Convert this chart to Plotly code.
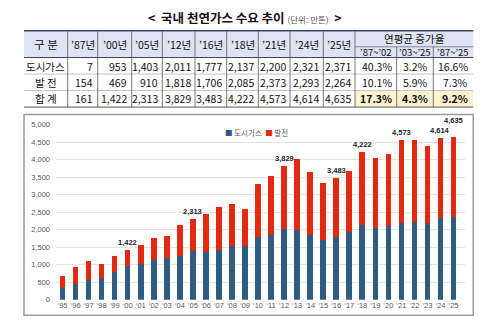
import plotly.graph_objects as go

# ---------------- data ----------------
years = ["‘95", "‘96", "‘97", "‘98", "‘99", "‘00", "‘01", "‘02", "‘03", "‘04", "‘05",
         "‘06", "‘07", "‘08", "‘09", "‘10", "‘11", "‘12", "‘13", "‘14", "‘15", "‘16",
         "‘17", "‘18", "‘19", "‘20", "‘21", "‘22", "‘23", "‘24", "‘25"]
city_gas = [330, 450, 560, 610, 780, 953, 1010, 1120, 1200, 1260, 1403,
            1370, 1430, 1520, 1540, 1780, 1840, 2011, 2000, 1840, 1700, 1777,
            1930, 2137, 2060, 2090, 2200, 2220, 2180, 2321, 2371]
power = [350, 470, 550, 420, 480, 469, 540, 640, 630, 860, 910,
         1070, 1220, 1210, 1050, 1510, 1700, 1818, 2010, 1810, 1630, 1706,
         1750, 2085, 1980, 2060, 2373, 2330, 2200, 2293, 2264]
label_years = ["‘00", "‘05", "‘12", "‘16", "‘18", "‘21", "‘24", "‘25"]

table_cols = ["’87년", "’00년", "’05년", "’12년", "’16년", "’18년", "’21년", "’24년", "’25년"]
rate_cols = ["’87~’02", "’03~’25", "’87~’25"]
row_labels = ["도시가스", "발 전", "합 계"]
table_city = [7, 953, 1403, 2011, 1777, 2137, 2200, 2321, 2371]
table_power = [154, 469, 910, 1818, 1706, 2085, 2373, 2293, 2264]
table_total = [161, 1422, 2313, 3829, 3483, 4222, 4573, 4614, 4635]
rates_city = [40.3, 3.2, 16.6]
rates_power = [10.1, 5.9, 7.3]
rates_total = [17.3, 4.3, 9.2]

# ---------------- helpers ----------------
W, H = 500, 328
def X(px):
    return px / W
def Y(py):
    return 1 - py / H

BLUE = "#2f5b83"
RED = "#e3290f"
KFONT = "Noto Sans CJK KR"

fig = go.Figure()
fig.add_trace(go.Bar(x=years, y=city_gas, name="도시가스", marker_color=BLUE,
                     marker_line_width=0, showlegend=False))
fig.add_trace(go.Bar(x=years, y=power, name="발전", marker_color=RED,
                     marker_line_width=0, showlegend=False))

totals = [a + b for a, b in zip(city_gas, power)]
annotations = []
for i, yr in enumerate(years):
    if yr in label_years:
        shift = 10 if i == len(years) - 1 else 1
        annotations.append(dict(x=yr, y=totals[i], xref="x", yref="y", text=f"<b>{totals[i]:,}</b>",
                                showarrow=False, yanchor="bottom", yshift=shift,
                                font=dict(family="Liberation Sans", size=7.5, color="#222")))

# legend (manual)
annotations.append(dict(x=X(223), y=Y(132), xref="paper", yref="paper", xanchor="left", yanchor="middle",
                        showarrow=False,
                        text=f"<span style='color:{BLUE}'>■</span> 도시가스  <span style='color:{RED}'>■</span> 발전",
                        font=dict(family=KFONT, size=7.5, color="#595959")))

# title
annotations.append(dict(x=X(245), y=Y(14), xref="paper", yref="paper", xanchor="center", yanchor="middle",
                        showarrow=False,
                        text="<b>&lt;  국내 천연가스 수요 추이</b> <span style='font-size:8.5px;color:#555'>(단위: 만톤)</span> <b> &gt;</b>",
                        font=dict(family=KFONT, size=12.5, color="#111")))

# ---------------- table ----------------
col_edges = [24, 67.7, 97.7, 131.7, 162.3, 195, 226.7, 258.3, 290, 323.3, 355, 396.7, 433.3, 473.3]
top, sub, hdr, r1, r2, r3 = 27.5, 44, 55, 72, 89, 106
shapes = []
shapes.append(dict(type="rect", xref="paper", yref="paper", x0=X(24), x1=X(473.3), y0=Y(top), y1=Y(hdr),
                   fillcolor="#dfe4f4", line_width=0, layer="below"))
shapes.append(dict(type="rect", xref="paper", yref="paper", x0=X(355), x1=X(473.3), y0=Y(r2), y1=Y(r3),
                   fillcolor="#fdf1d0", line_width=0, layer="below"))
def hline(py, x0, x1, color, w):
    shapes.append(dict(type="line", xref="paper", yref="paper", x0=X(x0), x1=X(x1), y0=Y(py), y1=Y(py),
                       line=dict(color=color, width=w)))
def vline(px, y0, y1, color, w):
    shapes.append(dict(type="line", xref="paper", yref="paper", x0=X(px), x1=X(px), y0=Y(y0), y1=Y(y1),
                       line=dict(color=color, width=w)))
hline(top, 24, 473.3, "#3a4668", 1.5)
hline(hdr, 24, 473.3, "#3a4668", 1.2)
hline(sub, 355, 473.3, "#6a7088", 0.8)
hline(r1, 24, 473.3, "#b5b5b5", 0.8)
hline(r2, 24, 473.3, "#b5b5b5", 0.8)
hline(r3, 24, 473.3, "#555", 1)
for k, e in enumerate(col_edges[1:-1]):
    if e in (396.7, 433.3):
        vline(e, sub, r3, "#555", 0.8)
    else:
        vline(e, top, r3, "#555", 0.8)

TF = dict(family=KFONT, size=10.5, color="#111")
def cell_text(text, px, py, anchor="center", bold=False, size=None):
    f = dict(TF)
    if size:
        f["size"] = size
    annotations.append(dict(x=X(px), y=Y(py), xref="paper", yref="paper", xanchor=anchor, yanchor="middle",
                            showarrow=False, text=f"<b>{text}</b>" if bold else text, font=f))

# header
cell_text("구 분", (col_edges[0] + col_edges[1]) / 2, (top + hdr) / 2, size=11.5)
for j, c in enumerate(table_cols):
    cell_text(c, (col_edges[j + 1] + col_edges[j + 2]) / 2, (top + hdr) / 2)
cell_text("연평균 증가율", (355 + 473.3) / 2, (top + sub) / 2 - 0.5)
for j, c in enumerate(rate_cols):
    cell_text(c, (col_edges[10 + j] + col_edges[11 + j]) / 2, (sub + hdr) / 2 - 0.3, size=9.5)

# body
rows = [(table_city, rates_city, False), (table_power, rates_power, False), (table_total, rates_total, True)]
row_mid = [(hdr + r1) / 2 + 0.5, (r1 + r2) / 2, (r2 + r3) / 2]
for i, (vals, rates, bold_rates) in enumerate(rows):
    ym = row_mid[i]
    cell_text(row_labels[i], (col_edges[0] + col_edges[1]) / 2, ym, size=10.5)
    for j, v in enumerate(vals):
        cell_text(f"{v:,}", col_edges[j + 2] - 2.5, ym, anchor="right")
    for j, r in enumerate(rates):
        cell_text(f"{r:.1f}%", col_edges[11 + j] - 3, ym, anchor="right", bold=bold_rates)

# chart frame
shapes.append(dict(type="rect", xref="paper", yref="paper", x0=X(24), x1=X(473.3), y0=Y(113.5), y1=Y(320),
                   line=dict(color="#9a9a9a", width=1.5), fillcolor="rgba(0,0,0,0)"))

fig.update_layout(
    width=W, height=H, margin=dict(l=0, r=0, t=0, b=0),
    paper_bgcolor="white", plot_bgcolor="white",
    barmode="stack", bargap=0.57,
    annotations=annotations, shapes=shapes,
    xaxis=dict(domain=[X(56), X(465)], type="category", showgrid=False, showline=False, ticks="",
               tickfont=dict(family="Liberation Sans", size=7.5, color="#595959"), tickangle=0),
    yaxis=dict(domain=[Y(304), Y(124)], range=[0, 5000], dtick=500, tickformat=",",
               showgrid=True, gridcolor="#e4e4e4", gridwidth=1, zeroline=False, showline=False,
               ticklabelstandoff=5,
               tickfont=dict(family="Liberation Sans", size=7.5, color="#595959")),
)

fig.write_html("out.html")
